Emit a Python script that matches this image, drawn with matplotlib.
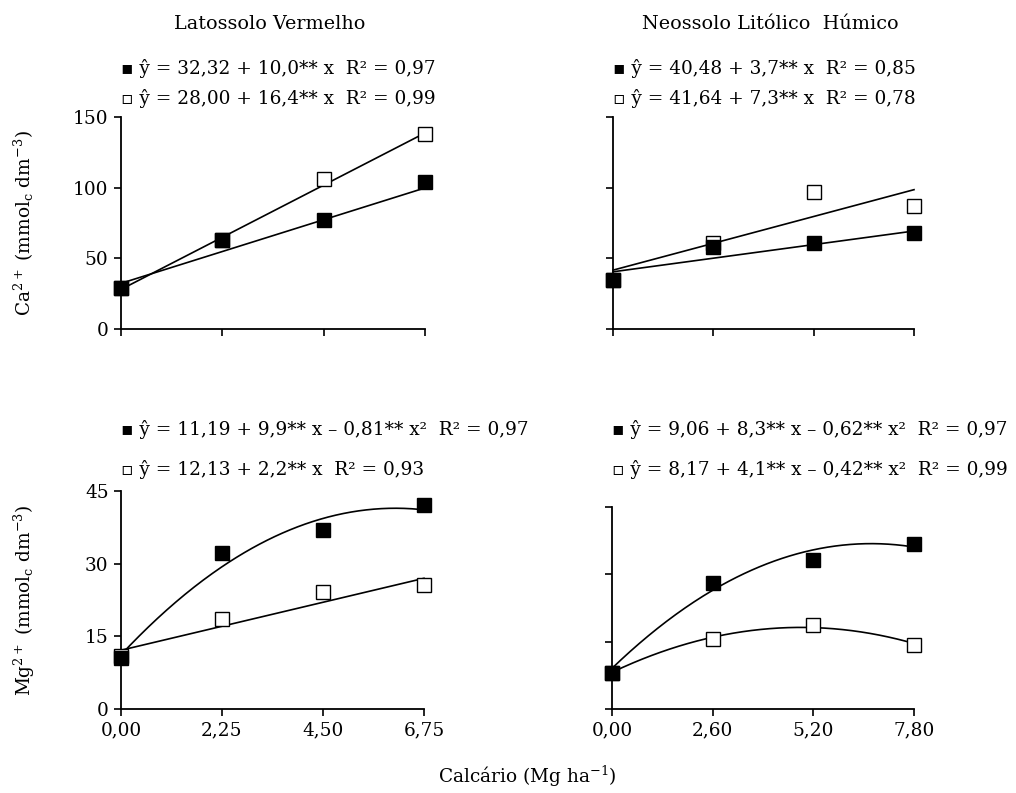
import numpy as np
import matplotlib
matplotlib.use("Agg")
import matplotlib.pyplot as plt

plt.rcParams['font.family'] = ['DejaVu Serif', 'DejaVu Sans']
plt.rcParams['mathtext.fontset'] = 'dejavuserif'

# ---- data ----
x_lv = [0.0, 2.25, 4.50, 6.75]
x_nl = [0.0, 2.60, 5.20, 7.80]
xt_lv = ['0,00', '2,25', '4,50', '6,75']
xt_nl = ['0,00', '2,60', '5,20', '7,80']

ca_lv_black = [29, 63, 77, 104]
ca_lv_white = [29, 63, 106, 138]
ca_nl_black = [35, 58, 61, 68]
ca_nl_white = [35, 61, 97, 87]

mg_lv_black = [10.5, 32.2, 37.0, 42.1]
mg_lv_white = [11.0, 18.6, 24.2, 25.6]
mg_nl_black = [8.0, 28.0, 33.3, 36.7]
mg_nl_white = [8.0, 15.5, 18.7, 14.3]

# regression coefficients (a, b, c): y = a + b x + c x^2
fit_ca_lv_black = (32.32, 10.0, 0.0)
fit_ca_lv_white = (28.00, 16.4, 0.0)
fit_ca_nl_black = (40.48, 3.7, 0.0)
fit_ca_nl_white = (41.64, 7.3, 0.0)
fit_mg_lv_black = (11.19, 9.9, -0.81)
fit_mg_lv_white = (12.13, 2.2, 0.0)
fit_mg_nl_black = (9.06, 8.3, -0.62)
fit_mg_nl_white = (8.17, 4.1, -0.42)

eq_ca_lv = ['\u25AA \u0177 = 32,32 + 10,0** x  R\u00B2 = 0,97',
            '\u25AB \u0177 = 28,00 + 16,4** x  R\u00B2 = 0,99']
eq_ca_nl = ['\u25AA \u0177 = 40,48 + 3,7** x  R\u00B2 = 0,85',
            '\u25AB \u0177 = 41,64 + 7,3** x  R\u00B2 = 0,78']
eq_mg_lv = ['\u25AA \u0177 = 11,19 + 9,9** x \u2013 0,81** x\u00B2  R\u00B2 = 0,97',
            '\u25AB \u0177 = 12,13 + 2,2** x  R\u00B2 = 0,93']
eq_mg_nl = ['\u25AA \u0177 = 9,06 + 8,3** x \u2013 0,62** x\u00B2  R\u00B2 = 0,97',
            '\u25AB \u0177 = 8,17 + 4,1** x \u2013 0,42** x\u00B2  R\u00B2 = 0,99']

W, H = 1016, 793
fig = plt.figure(figsize=(W/100, H/100), dpi=100)

def rect(l, r, t, b):
    return [l/W, 1-b/H, (r-l)/W, (b-t)/H]

FS = 13.3
FS_T = 13.8

def panel(r, x, xt, yb, yw, fb, fw, ylim, yticks, ylab, eqs, eq_y):
    ax = fig.add_axes(r)
    xs = np.linspace(0, x[-1], 200)
    for f in (fw, fb):
        a, b, c = f
        ax.plot(xs, a + b*xs + c*xs**2, color='black', lw=1.2, clip_on=False, zorder=2)
    ax.plot(x, yw, ls='none', marker='s', ms=10.5, mfc='white', mec='black', mew=1.0,
            clip_on=False, zorder=3)
    ax.plot(x, yb, ls='none', marker='s', ms=10.5, mfc='black', mec='black', mew=1.0,
            clip_on=False, zorder=4)
    ax.set_xlim(0, x[-1])
    ax.set_ylim(*ylim)
    ax.set_xticks(x)
    ax.set_yticks(yticks)
    ax.spines['top'].set_visible(False)
    ax.spines['right'].set_visible(False)
    for s in ('left', 'bottom'):
        ax.spines[s].set_linewidth(1.3)
    ax.tick_params(direction='out', length=5, width=1.2, labelsize=FS, pad=4)
    if ylab:
        ax.set_yticklabels([str(v) for v in yticks])
        ax.set_ylabel(ylab, fontsize=FS, va='center')
        ax.yaxis.set_label_coords((24 - 121) / (r[2] * W), 0.5)
    else:
        ax.set_yticklabels([])
    if xt:
        ax.set_xticklabels(xt)
    else:
        ax.set_xticklabels([])
    x0 = r[0]
    for i, e in enumerate(eqs):
        fig.text(x0, 1 - eq_y[i]/H, e, fontsize=FS, va='center', ha='left')
    return ax

ylab_ca = r'Ca$^{2+}$ (mmol$_{\rm c}$ dm$^{-3}$)'
ylab_mg = r'Mg$^{2+}$ (mmol$_{\rm c}$ dm$^{-3}$)'

panel(rect(121, 425, 117, 329), x_lv, None, ca_lv_black, ca_lv_white,
      fit_ca_lv_black, fit_ca_lv_white, (0, 150), [0, 50, 100, 150], ylab_ca,
      eq_ca_lv, [69, 98])
panel(rect(613, 914, 117, 329), x_nl, None, ca_nl_black, ca_nl_white,
      fit_ca_nl_black, fit_ca_nl_white, (0, 150), [0, 50, 100, 150], None,
      eq_ca_nl, [69, 98])
panel(rect(121, 424, 491, 709), x_lv, xt_lv, mg_lv_black, mg_lv_white,
      fit_mg_lv_black, fit_mg_lv_white, (0, 45), [0, 15, 30, 45], ylab_mg,
      eq_mg_lv, [429, 470])
panel(rect(612, 914, 507, 709), x_nl, xt_nl, mg_nl_black, mg_nl_white,
      fit_mg_nl_black, fit_mg_nl_white, (0, 45), [0, 15, 30, 45], None,
      eq_mg_nl, [429, 470])

fig.text(270/W, 1 - 24/H, 'Latossolo Vermelho', fontsize=FS_T, ha='center', va='center')
fig.text(770/W, 1 - 24/H, 'Neossolo Litólico  Húmico', fontsize=FS_T, ha='center', va='center')
fig.text(527/W, 1 - 783/H, r'Calcário (Mg ha$^{-1}$)', fontsize=FS, ha='center', va='baseline')

fig.savefig('out.png', dpi=100)
